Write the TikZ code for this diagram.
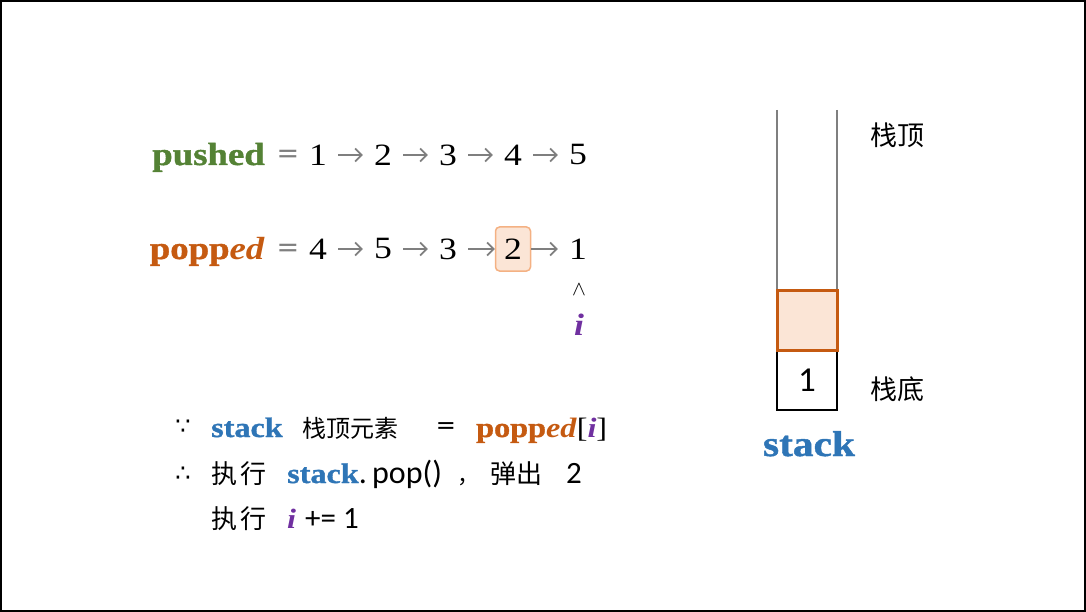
\documentclass[tikz,border=0pt]{standalone}
\usepackage{fontspec}
\usetikzlibrary{arrows.meta}
\setmainfont{Liberation Serif}
\newfontfamily\cmb[FakeStretch=1.15,BoldFeatures={FakeBold=1.2}]{Liberation Serif}
\newfontfamily\cjk{Noto Sans CJK SC}
\newfontfamily\carl{Carlito}
\newfontfamily\djv{DejaVu Sans}
\newcommand\fs[1]{\fontsize{#1}{#1}\selectfont}
\definecolor{cgreen}{HTML}{548235}
\definecolor{corange}{HTML}{C55A11}
\definecolor{cblue}{HTML}{2E75B6}
\definecolor{cpurple}{HTML}{7030A0}
\definecolor{cgray}{HTML}{7F7F7F}
\definecolor{clight}{HTML}{FBE5D6}
\definecolor{cedge}{HTML}{F4B183}
\begin{document}
\begin{tikzpicture}[x=1pt,y=-1pt,
  num/.style={font=\cmb\fs{31}, inner sep=0pt, minimum width=40pt, anchor=center},
  lbl/.style={inner sep=0pt, anchor=base east},
  eqs/.style={font=\djv\fs{27}, text=cgray, inner sep=0pt, anchor=center},
  garr/.style={draw=cgray, line width=1.7pt, -{Straight Barb[length=6.5pt,width=13pt]}},
  hl/.style={draw=cedge, fill=clight, line width=1.5pt, rounded corners=4pt, minimum width=35pt, minimum height=44pt, inner sep=0pt, font=\cmb\fs{31}},
  txt/.style={inner sep=0pt, anchor=base west},
  cn/.style={inner sep=0pt, anchor=center, font=\cjk\fs{26}}
]
\useasboundingbox (0,0) rectangle (1086,612);
\draw[line width=2.5pt] (1.2,1.2) rectangle (1084.8,610.8);

% pushed row
\node[lbl, text=cgreen, font=\cmb\fs{32}\bfseries] (pl) at (265,165) {pushed};
\node[eqs] (pe) at (288,156) {=};
\node[num] (p1) at (318,155) {1};
\node[num] (p2) at (383,155) {2};
\node[num] (p3) at (448,155) {3};
\node[num] (p4) at (513,155) {4};
\node[num] (p5) at (578,155) {5};
\draw[garr] (p1) -- (p2);
\draw[garr] (p2) -- (p3);
\draw[garr] (p3) -- (p4);
\draw[garr] (p4) -- (p5);

% popped row
\node[lbl, text=corange, font=\cmb\fs{32}\bfseries] (ql) at (265,259) {popp\textit{ed}};
\node[eqs] (qe) at (288,250) {=};
\node[num] (q4) at (318,249) {4};
\node[num] (q5) at (383,249) {5};
\node[num] (q3) at (448,249) {3};
\node[hl] (q2) at (513,249) {2};
\node[num] (q1) at (578,249) {1};
\draw[garr] (q4) -- (q5);
\draw[garr] (q5) -- (q3);
\draw[garr] (q3) -- (q2);
\draw[garr] (q2) -- (q1);
\node[inner sep=0pt] (caret) at (579,290) {\fs{22}$\wedge$};
\node[inner sep=0pt, anchor=base, text=cpurple, font=\cmb\fs{31}\bfseries\itshape] (iv) at (579,335) {i};

% stack
\draw[cgray, line width=2pt] (777,110) -- (777,290);
\draw[cgray, line width=2pt] (837,110) -- (837,290);
\node[draw=black, line width=2pt, minimum width=60pt, minimum height=60pt, inner sep=0pt, font=\carl\fs{35}] (s1) at (807,380) {1};
\node[draw=corange, fill=clight, line width=3pt, minimum width=60pt, minimum height=60pt, inner sep=0pt] (s2) at (807,320) {};
\node[cn, font=\cjk\fs{27}] (top) at (897,135) {栈顶};
\node[cn, font=\cjk\fs{27}] (bot) at (897,389) {栈底};
\node[inner sep=0pt, anchor=base, text=cblue, font=\cmb\fs{36}\bfseries] (sl) at (809,456) {stack};

% explanation line 1
\node[inner sep=0pt, font=\djv\fs{24}] (because) at (183,427) {∵};
\node[txt, text=cblue, font=\cmb\fs{28}\bfseries] (a1) at (211,437) {stack};
\node[txt, font=\cjk\fs{24}] (a2) at (302,437) {栈顶元素};
\node[inner sep=0pt, font=\djv\fs{24}] (a3) at (446,428) {=};
\node[txt, font=\cmb\fs{28}] (a4) at (476,437) {\textcolor{corange}{\bfseries popp\textit{ed}}[\textcolor{cpurple}{\bfseries\itshape i}]};

% explanation line 2
\node[inner sep=0pt, font=\djv\fs{24}] (therefore) at (183,474) {∴};
\node[txt, font=\cjk\fs{26}] (b1) at (211,483) {执\hspace{3pt}行};
\node[txt, font=\cmb\fs{28}] (b2) at (287,483) {\textcolor{cblue}{\bfseries stack}{\carl\fs{32}.\,pop()}};
\node[txt, font=\cjk\fs{22}] (b3) at (457,483) {，};
\node[txt, font=\cjk\fs{26}] (b4) at (490,483) {弹出};
\node[txt, font=\carl\fs{31}] (b5) at (566,483) {2};

% explanation line 3
\node[txt, font=\cjk\fs{26}] (c1) at (211,528) {执\hspace{3pt}行};
\node[txt, text=cpurple, font=\cmb\fs{28}\bfseries\itshape] (c2) at (287,528) {i};
\node[txt, font=\carl\fs{31}] (c3) at (305,528) {+= 1};
\end{tikzpicture}
\end{document}
